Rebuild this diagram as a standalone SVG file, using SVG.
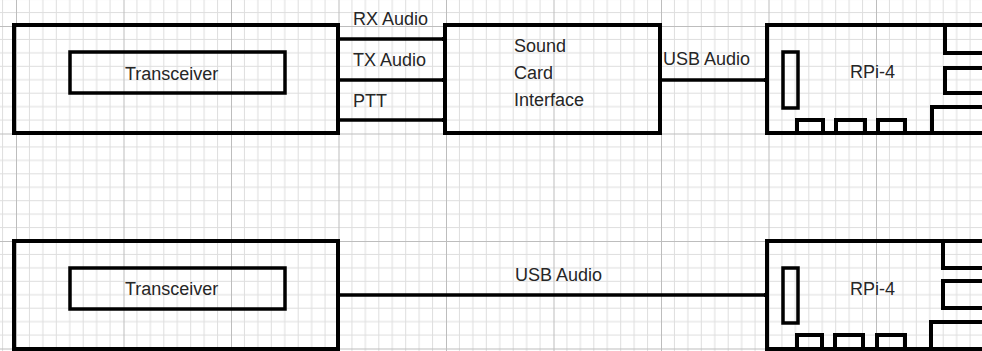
<svg xmlns="http://www.w3.org/2000/svg" width="982" height="351" viewBox="0 0 982 351">
  <defs>
    <pattern id="grid" x="16" y="26" width="107.5" height="107.5" patternUnits="userSpaceOnUse">
      <path d="M13.44 0V107.5M26.88 0V107.5M40.31 0V107.5M53.75 0V107.5M67.19 0V107.5M80.63 0V107.5M94.06 0V107.5M0 13.44H107.5M0 26.88H107.5M0 40.31H107.5M0 53.75H107.5M0 67.19H107.5M0 80.63H107.5M0 94.06H107.5" stroke="#dedede" stroke-width="1" fill="none"/>
      <path d="M0.5 0V107.5M0 0.5H107.5" stroke="#bdbdbd" stroke-width="1" fill="none"/>
    </pattern>
    <marker id="arr" viewBox="0 0 6 6" refX="5" refY="3" markerWidth="1.4" markerHeight="1.4" orient="auto" markerUnits="strokeWidth">
      <path d="M0 0L6 3L0 6Z" fill="#000"/>
    </marker>
  </defs>
  <style>
    .box { fill: none; stroke: #000; stroke-width: 4; }
    .inner { fill: none; stroke: #000; stroke-width: 3.5; }
    .wire { fill: none; stroke: #000; stroke-width: 3.5; }
    text { font-family: "Liberation Sans", Arial, sans-serif; font-size: 18px; fill: #262626; }
  </style>
  <rect width="982" height="351" fill="#fff"/>
  <rect width="982" height="351" fill="url(#grid)"/>

  <g id="transceiver-top">
    <rect class="box" x="14" y="25" width="324" height="108"/>
    <rect class="inner" x="70" y="52" width="215" height="41"/>
    <text x="125" y="80">Transceiver</text>
  </g>

  <g id="soundcard">
    <rect class="box" x="445" y="25" width="215" height="108"/>
    <text x="514" y="52">Sound</text>
    <text x="514" y="79">Card</text>
    <text x="514" y="106">Interface</text>
  </g>

  <g id="rpi-top">
    <rect class="box" x="767" y="25" width="240" height="108"/>
    <rect class="inner" x="783" y="52" width="15" height="56"/>
    <path class="box" d="M1000 53H945V25M1000 68H945V93H1000M990 107H932V133"/>
    <path class="box" d="M797 133V120H823V133M836 133V120H865V133M878 133V120H905V133"/>
    <text x="850" y="78">RPi-4</text>
  </g>

  <g id="transceiver-bottom">
    <rect class="box" x="14" y="241" width="324" height="108"/>
    <rect class="inner" x="70" y="268" width="215" height="41"/>
    <text x="125" y="295">Transceiver</text>
  </g>

  <g id="rpi-bottom">
    <rect class="box" x="767" y="241" width="240" height="108"/>
    <rect class="inner" x="783" y="268" width="15" height="55"/>
    <path class="box" d="M1000 268H943V241M1000 281H943V308H1000M990 322H931V349"/>
    <path class="box" d="M797 349V335H822V349M835 349V335H863V349M877 349V335H905V349"/>
    <text x="850" y="295">RPi-4</text>
  </g>

  <g id="connectors">
    <line class="wire" x1="338" y1="39" x2="446" y2="39" stroke-width="3" marker-end="url(#arr)"/>
    <line class="wire" x1="338" y1="80" x2="446" y2="80" marker-end="url(#arr)"/>
    <line class="wire" x1="338" y1="120" x2="446" y2="120" marker-end="url(#arr)"/>
    <line class="wire" x1="660" y1="80" x2="768" y2="80" marker-end="url(#arr)"/>
    <line class="wire" x1="338" y1="295" x2="768" y2="295" marker-end="url(#arr)"/>
    <text x="353" y="25">RX Audio</text>
    <text x="353" y="66">TX Audio</text>
    <text x="353" y="107">PTT</text>
    <text x="663" y="65">USB Audio</text>
    <text x="515" y="281">USB Audio</text>
  </g>
</svg>
